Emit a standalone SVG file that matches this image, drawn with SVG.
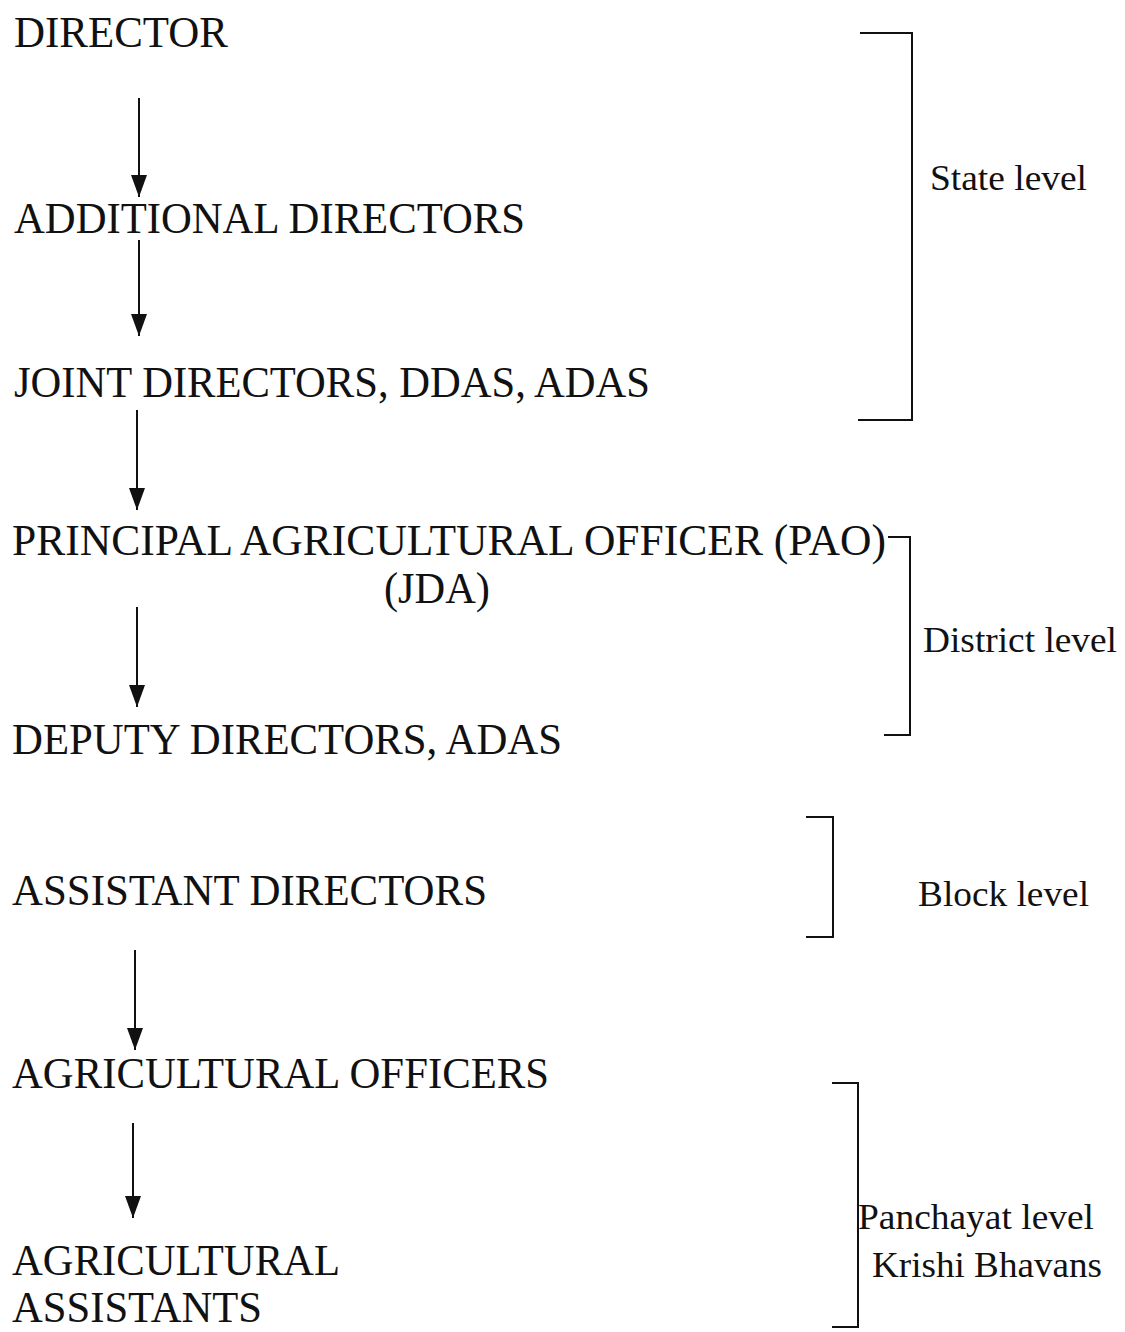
<svg xmlns="http://www.w3.org/2000/svg" width="1125" height="1332" viewBox="0 0 1125 1332">
<style>
.t{font-family:"Liberation Serif","Times New Roman",serif;font-size:45px;fill:#111}
.s{font-family:"Liberation Serif","Times New Roman",serif;font-size:36px;fill:#111}
.c{stroke:#111;stroke-width:2;fill:none}
</style>
<defs>
<marker id="ah" markerWidth="22" markerHeight="16" refX="22" refY="8" orient="auto" markerUnits="userSpaceOnUse" viewBox="0 0 22 16">
<path d="M0,0 L22,8 L0,16 Z" fill="#111"/>
</marker>
</defs>
<rect width="1125" height="1332" fill="#fff"/>
<g id="n1"><text class="t" x="14" y="47" textLength="214" lengthAdjust="spacingAndGlyphs">DIRECTOR</text></g>
<g id="n2"><text class="t" x="14" y="233" textLength="511" lengthAdjust="spacingAndGlyphs">ADDITIONAL DIRECTORS</text></g>
<g id="n3"><text class="t" x="14" y="397" textLength="636" lengthAdjust="spacingAndGlyphs">JOINT DIRECTORS, DDAS, ADAS</text></g>
<g id="n4"><text class="t" x="12" y="555" textLength="874" lengthAdjust="spacingAndGlyphs">PRINCIPAL AGRICULTURAL OFFICER (PAO)</text>
<text class="t" x="384" y="603" textLength="106" lengthAdjust="spacingAndGlyphs">(JDA)</text></g>
<g id="n5"><text class="t" x="12" y="754" textLength="550" lengthAdjust="spacingAndGlyphs">DEPUTY DIRECTORS, ADAS</text></g>
<g id="n6"><text class="t" x="12" y="905" textLength="475" lengthAdjust="spacingAndGlyphs">ASSISTANT DIRECTORS</text></g>
<g id="n7"><text class="t" x="12" y="1088" textLength="537" lengthAdjust="spacingAndGlyphs">AGRICULTURAL OFFICERS</text></g>
<g id="n8"><text class="t" x="12" y="1275" textLength="328" lengthAdjust="spacingAndGlyphs">AGRICULTURAL</text>
<text class="t" x="12" y="1322" textLength="250" lengthAdjust="spacingAndGlyphs">ASSISTANTS</text></g>
<g id="connectors">
<line class="c" x1="139" y1="98" x2="139" y2="197" marker-end="url(#ah)"/>
<line class="c" x1="139" y1="240" x2="139" y2="336" marker-end="url(#ah)"/>
<line class="c" x1="137" y1="410" x2="137" y2="510" marker-end="url(#ah)"/>
<line class="c" x1="137" y1="607" x2="137" y2="707" marker-end="url(#ah)"/>
<line class="c" x1="135" y1="950" x2="135" y2="1050" marker-end="url(#ah)"/>
<line class="c" x1="133" y1="1123" x2="133" y2="1218" marker-end="url(#ah)"/>
</g>
<g id="state"><polyline class="c" points="860,33 912,33 912,420 858,420"/>
<text class="s" x="930" y="190" textLength="157" lengthAdjust="spacingAndGlyphs">State level</text></g>
<g id="district"><polyline class="c" points="888,537 910,537 910,735 884,735"/>
<text class="s" x="923" y="652" textLength="194" lengthAdjust="spacingAndGlyphs">District level</text></g>
<g id="block"><polyline class="c" points="806,817 833,817 833,937 806,937"/>
<text class="s" x="918" y="906" textLength="171" lengthAdjust="spacingAndGlyphs">Block level</text></g>
<g id="panchayat"><polyline class="c" points="832,1083 858,1083 858,1327 832,1327"/>
<text class="s" x="858" y="1229" textLength="236" lengthAdjust="spacingAndGlyphs">Panchayat level</text>
<text class="s" x="872" y="1277" textLength="230" lengthAdjust="spacingAndGlyphs">Krishi Bhavans</text></g>
</svg>
